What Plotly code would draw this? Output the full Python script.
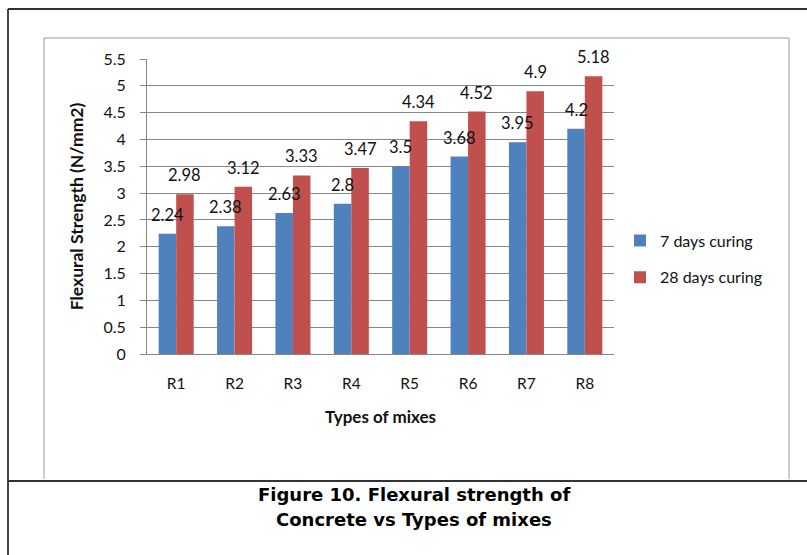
import plotly.graph_objects as go

# Flexural strength (N/mm2) per mix type
mixes = ["R1", "R2", "R3", "R4", "R5", "R6", "R7", "R8"]
days7 = [2.24, 2.38, 2.63, 2.8, 3.5, 3.68, 3.95, 4.2]
days28 = [2.98, 3.12, 3.33, 3.47, 4.34, 4.52, 4.9, 5.18]
series_names = ["7 days curing", "28 days curing"]
y_ticks = [0, 0.5, 1, 1.5, 2, 2.5, 3, 3.5, 4, 4.5, 5, 5.5]
caption = ["Figure 10. Flexural strength of", "Concrete vs Types of mixes"]

BLUE = "#4F81BD"
RED = "#C0504D"
GRID = "#878787"
FONT = "Lato"
TEXT = "#111111"

W, H = 807, 555
PL, PR, PT, PB = 147, 614, 59, 354   # plot-area edges in pixels
BARGAP = 0.4


def px(x):
    return (x - PL) / (PR - PL)


def py(y):
    return (PB - y) / (PB - PT)


fig = go.Figure()
for name, vals, col in [(series_names[0], days7, BLUE), (series_names[1], days28, RED)]:
    fig.add_trace(go.Bar(
        x=mixes, y=vals, name=name, marker=dict(color=col, line=dict(width=0)),
        legendgroup=name,
    ))

# value labels above each bar
cat_w = (PR - PL) / len(mixes)
half = cat_w * (1 - BARGAP) / 4
annotations = []
for vals, shift in [(days7, -half), (days28, half)]:
    for m, v in zip(mixes, vals):
        annotations.append(dict(
            x=m, y=v, xref="x", yref="y", text=f"{v:g}", showarrow=False,
            xshift=shift, yshift=19, yanchor="middle", xanchor="center",
            font=dict(family=FONT, size=16.5, color=TEXT),
        ))

# figure caption
for i, line in enumerate(caption):
    annotations.append(dict(
        x=px(414), y=py(494 + 25 * i), xref="paper", yref="paper", text=line,
        showarrow=False, xanchor="center", yanchor="middle",
        font=dict(family="DejaVu Sans", size=18, color="#000000", weight="bold"),
    ))

# frame lines
shapes = []
def seg(x0, y0, x1, y1, color, width):
    shapes.append(dict(type="line", xref="paper", yref="paper",
                       x0=px(x0), y0=py(y0), x1=px(x1), y1=py(y1),
                       line=dict(color=color, width=width)))

seg(44, 38, 44, 479, "#9c9c9c", 1)
seg(44, 38, 789, 38, "#9c9c9c", 1)
seg(789, 38, 789, 479, "#9c9c9c", 1)
seg(8, 9, 8, 555, "#333333", 1.8)
seg(8, 9, 807, 9, "#333333", 1.8)
seg(8, 481, 807, 481, "#333333", 1.8)

fig.update_layout(
    width=W, height=H,
    margin=dict(l=PL, r=W - PR, t=PT, b=H - PB, pad=0),
    paper_bgcolor="white", plot_bgcolor="white",
    barmode="group", bargap=BARGAP, bargroupgap=0,
    font=dict(family=FONT, size=15, color=TEXT),
    showlegend=True,
    legend=dict(
        x=px(620), y=py(259), xanchor="left", yanchor="middle",
        xref="paper", yref="paper",
        font=dict(family=FONT, size=16, color=TEXT),
        traceorder="grouped", tracegroupgap=13, itemwidth=30,
        bgcolor="rgba(0,0,0,0)",
    ),
    xaxis=dict(
        type="category", showline=True, linecolor=GRID, linewidth=1,
        ticks="", showgrid=False, ticklabelstandoff=15,
        tickfont=dict(family=FONT, size=15.5),
        title=dict(text="Types of mixes", standoff=20,
                   font=dict(family=FONT, size=17, weight="bold")),
        automargin=False,
    ),
    yaxis=dict(
        range=[0, 5.5], tickvals=y_ticks, ticktext=[f"{t:g}" for t in y_ticks],
        showline=True, linecolor=GRID, linewidth=1,
        ticks="outside", ticklen=6, tickcolor=GRID,
        showgrid=True, gridcolor=GRID, gridwidth=1, zeroline=False,
        ticklabelstandoff=11,
        tickfont=dict(family=FONT, size=16),
        title=dict(text="Flexural Strength (N/mm2)", standoff=15,
                   font=dict(family=FONT, size=17.5, weight="bold")),
        automargin=False,
    ),
    annotations=annotations,
    shapes=shapes,
)

fig.write_html("out.html")
